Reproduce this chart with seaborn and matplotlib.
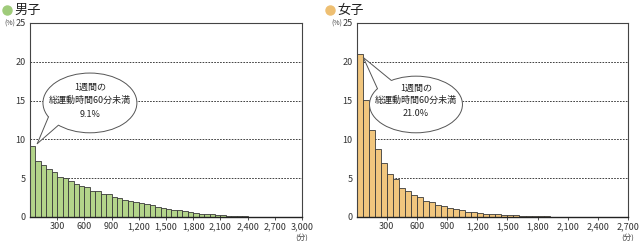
import numpy as np
import pandas as pd
import seaborn as sns
import matplotlib
matplotlib.use("Agg")
import matplotlib.pyplot as plt
from matplotlib.patches import Ellipse, Polygon
from matplotlib.lines import Line2D

# ---------------- data ----------------
bin_width = 60  # minutes
boys_values = [9.1, 7.2, 6.7, 6.2, 5.8, 5.2, 5.0, 4.6, 4.3, 4.0,
               3.9, 3.4, 3.4, 3.0, 2.9, 2.6, 2.4, 2.2, 2.0, 1.9,
               1.8, 1.7, 1.5, 1.35, 1.2, 1.05, 0.95, 0.85, 0.75, 0.65,
               0.55, 0.45, 0.4, 0.33, 0.27, 0.22, 0.18, 0.15, 0.1, 0.08,
               0.06, 0.05, 0.05, 0.04, 0.04, 0.03, 0.03, 0.03, 0.02, 0.02]
girls_values = [21.0, 15.1, 11.2, 8.7, 7.0, 5.5, 4.9, 3.8, 3.3, 2.8,
                2.6, 2.05, 1.9, 1.6, 1.4, 1.2, 1.0, 0.9, 0.7, 0.6,
                0.5, 0.45, 0.4, 0.35, 0.3, 0.25, 0.2, 0.15, 0.12, 0.1,
                0.08, 0.07, 0.06, 0.05, 0.05, 0.04, 0.04, 0.03, 0.03, 0.03,
                0.02, 0.02, 0.02, 0.02, 0.02]
boys_xmax = 3000
girls_xmax = 2700
boys_ticks = [300, 600, 900, 1200, 1500, 1800, 2100, 2400, 2700, 3000]
girls_ticks = [300, 600, 900, 1200, 1500, 1800, 2100, 2400, 2700]
y_ticks = [0, 5, 10, 15, 20, 25]
titles = ["男子", "女子"]
bubble_lines = ["1週間の", "総運動時間60分未満"]
bubble_values = ["9.1%", "21.0%"]
unit_y = "(%)"
unit_x = "(分)"

# ---------------- style ----------------
sns.set_theme(style="white")
plt.rcParams['font.family'] = ['Noto Sans CJK JP', 'DejaVu Sans']

fig = plt.figure(figsize=(6.4, 2.41), dpi=100)
W, H = 640, 241
ax_l = fig.add_axes([30 / W, 1 - 217 / H, 272 / W, 194 / H])
ax_r = fig.add_axes([356.7 / W, 1 - 217 / H, 271.3 / W, 194 / H])

edge = "#3a3a3a"
fills = ["#b3d48a", "#f1c67e"]
dots = ["#9fcb7a", "#eebf72"]

panels = [
    (ax_l, boys_values, boys_xmax, boys_ticks, fills[0]),
    (ax_r, girls_values, girls_xmax, girls_ticks, fills[1]),
]

for ax, vals, xmax, ticks, fc in panels:
    centers = np.arange(len(vals)) * bin_width + bin_width / 2
    df = pd.DataFrame({"minutes": centers, "pct": vals})
    sns.histplot(data=df, x="minutes", weights="pct", binwidth=bin_width,
                 binrange=(0, len(vals) * bin_width), color=fc, alpha=1,
                 edgecolor=edge, linewidth=0.6, ax=ax, zorder=2)
    ax.set_xlim(0, xmax)
    ax.set_ylim(0, 25)
    ax.set_xlabel("")
    ax.set_ylabel("")
    ax.set_yticks(y_ticks)
    ax.set_yticklabels([str(t) for t in y_ticks], fontsize=6.5, color="#333333")
    ax.set_xticks(ticks)
    ax.set_xticklabels([f"{t:,}" for t in ticks], fontsize=6.5, color="#333333")
    ax.tick_params(axis="y", length=0, pad=3)
    ax.tick_params(axis="x", length=2, width=0.6, pad=1.5, direction="out",
                   colors="#333333", bottom=True)
    for g in [5, 10, 15, 20]:
        ax.axhline(g, color="#222222", lw=0.6, ls=(0, (2, 1.5)), zorder=1)
    for s in ax.spines.values():
        s.set_color("#444444")
        s.set_linewidth(0.8)
    ax.spines["bottom"].set_color("#222222")
    ax.spines["bottom"].set_linewidth(1.0)
    ax.grid(False)

# ---------------- speech bubbles ----------------
def bubble(ax, cx, cy, w, h, tip, angles, texts, text_y):
    ell = Ellipse((cx, cy), w, h, facecolor="white", edgecolor="#555555",
                  lw=0.7, zorder=5)
    ax.add_patch(ell)
    pts = []
    inner = []
    for a in angles:
        t = np.deg2rad(a)
        pts.append((cx + w / 2 * np.cos(t), cy + h / 2 * np.sin(t)))
        inner.append((cx + 0.9 * w / 2 * np.cos(t), cy + 0.9 * h / 2 * np.sin(t)))
    poly = Polygon([tip, pts[0], inner[0], inner[1], pts[1]], closed=True,
                   facecolor="white", edgecolor="none", zorder=6)
    ax.add_patch(poly)
    for p in pts:
        ax.add_line(Line2D([tip[0], p[0]], [tip[1], p[1]], color="#555555",
                           lw=0.7, zorder=7))
    for s, ty in zip(texts, text_y):
        ax.text(cx, ty, s, ha="center", va="center", fontsize=6.5,
                color="#222222", zorder=8)

# left (boys): pixel scale 7.8 px per %, 0.0907 px per minute
bubble(ax_l, 661, 14.7, 1036, 7.7, (80, 9.45), (208, 228),
       bubble_lines + [bubble_values[0]],
       [(217 - 86.7) / 7.8, (217 - 100) / 7.8, (217 - 113.5) / 7.8])
# right (girls): 0.1005 px per minute
bubble(ax_r, 590, 14.5, 925, 7.3, (66, 20.55), (122, 146),
       bubble_lines + [bubble_values[1]],
       [(217 - 87.3) / 7.8, (217 - 100) / 7.8, (217 - 113.3) / 7.8])

# ---------------- titles & units ----------------
for i, (xdot, xtxt, xunit) in enumerate([(7, 14, 15), (330, 337, 342.5)]):
    fig.add_artist(Line2D([xdot / W], [1 - 10 / H], marker="o", markersize=6.5,
                          color=dots[i], transform=fig.transFigure, lw=0))
    fig.text(xtxt / W, 1 - 10 / H, titles[i], fontsize=9.5, ha="left",
             va="center", color="#222222")
    fig.text(xunit / W, 1 - 24 / H, unit_y, fontsize=5, ha="right",
             va="center", color="#444444")

for ax, xm in [(ax_l, boys_xmax), (ax_r, girls_xmax)]:
    ax.text(xm, -0.085, unit_x, transform=ax.get_xaxis_transform(),
            ha="center", va="top", fontsize=5.5, color="#444444")

fig.savefig("out.png", dpi=100, facecolor="white")
